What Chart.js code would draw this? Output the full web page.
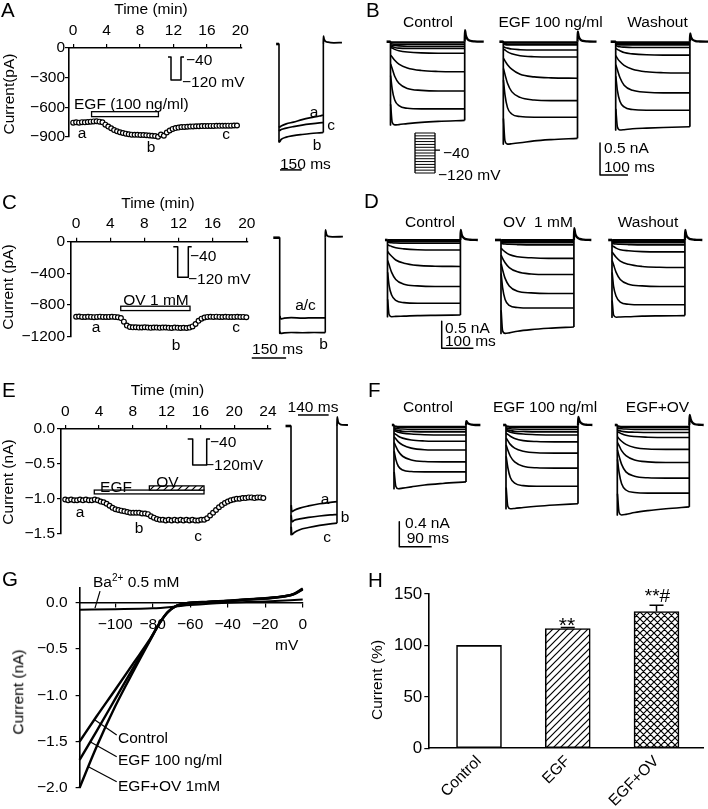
<!DOCTYPE html>
<html><head><meta charset="utf-8">
<script src="https://cdn.jsdelivr.net/npm/chart.js@4.4.1/dist/chart.umd.min.js"></script>
<style>
html,body{margin:0;padding:0;background:#fff}
body{position:relative;width:708px;height:809px;overflow:hidden;font-family:"Liberation Sans",Arial,Helvetica,sans-serif;color:#000}
canvas{position:absolute}
.t{position:absolute;white-space:nowrap;font-size:15.5px;line-height:1}
.t sup{font-size:10px;vertical-align:0;position:relative;top:-6px}
</style></head><body>
<script>
// ================= DATA =================
// --- time courses (one point per sweep) ---
const SWEEP_MIN = 0.35;
const TC_A = [-755,-752,-755,-750,-752,-748,-745,-742,-740,-745,-752,
 -775,-795,-812,-830,-842,-852,-860,-866,-872,-876,-878,-878,-880,-880,-882,-885,-888,-890,-898,-875,-888,-855,
 -835,-818,-810,-805,-800,-798,-796,-795,-793,-792,-791,-790,-790,-789,-788,-788,-787,-787,-786,-786,-785,-785,-784,-784];
const TC_C = [-948,-945,-950,-952,-948,-950,-953,-950,-947,-950,-952,-950,-948,-950,-955,
 -965,-1010,-1060,-1078,-1082,-1080,-1085,-1083,-1080,-1085,-1088,-1083,-1085,-1088,-1085,-1083,-1088,-1090,-1085,-1088,-1090,-1087,-1090,-1085,
 -1070,-1040,-1000,-972,-958,-950,-948,-950,-947,-950,-952,-948,-950,-952,-950,-948,-952,-950,-955];
const TC_E = [-1.01,-1.02,-1.01,-1.02,-1.02,-1.01,-1.02,-1.01,-1.02,-1.02,-1.01,-1.02,
 -1.04,-1.05,-1.07,-1.10,-1.13,-1.15,-1.16,-1.17,-1.18,-1.19,-1.20,-1.20,-1.20,-1.20,-1.21,-1.21,-1.22,
 -1.25,-1.27,-1.29,-1.30,-1.30,-1.31,-1.30,-1.31,-1.30,-1.31,-1.30,-1.31,-1.30,-1.31,-1.30,-1.31,-1.31,-1.30,-1.30,
 -1.28,-1.24,-1.20,-1.16,-1.12,-1.09,-1.06,-1.04,-1.02,-1.01,-1.00,-1.00,-0.99,-0.99,-0.98,-0.98,-0.99,-0.98,-0.98,-0.99];
// drug application windows (min)
const EGF_A = [2.2, 10.2];
const OV_C = [5.23, 13.35];
const EGF_E = [3.44, 16.43];
const OV_E = [9.96, 16.43];
// tick labels
const TICKS_A_X = [0,4,8,12,16,20];
const TICKS_A_Y = [0,-300,-600,-900];
const TICKS_C_X = [0,4,8,12,16,20];
const TICKS_C_Y = [0,-400,-800,-1200];
const TICKS_E_X = [0,4,8,12,16,20,24];
const TICKS_E_Y = [0,-0.5,-1.0,-1.5];
const TICKS_G_X = [-100,-80,-60,-40,-20,0];
const TICKS_G_Y = [0,-0.5,-1.0,-1.5,-2.0];
const TICKS_H_Y = [0,50,100,150];

// --- single-sweep traces (ms, pA / nA) ---
const TR_A_T = [1, 4, 15, 50, 100, 160, 220, 280, 307];
const TR_A_a = [-830,-840,-830,-808,-790,-765,-745,-728,-718];
const TR_A_c = [-865,-875,-865,-850,-835,-820,-808,-798,-795];
const TR_A_b = [-970,-990,-965,-942,-927,-915,-905,-898,-895];
const TR_A_TAIL_T = [0,1,5,13,33,73,129];
const TR_A_TAIL = [0,80,50,30,18,12,14];

const TR_C_T = [1, 5, 20, 50, 100, 150, 199];
const TR_C_ac = [-900,-935,-925,-920,-925,-921,-922];
const TR_C_b = [-1080,-1100,-1095,-1090,-1093,-1090,-1092];
const TR_C_TAIL_T = [0,1,5,13,31,77];
const TR_C_TAIL = [0,90,40,15,10,12];

const TR_E_T = [1, 4, 15, 40, 80, 130, 180, 210];
const TR_E_a = [-1.10,-1.19,-1.17,-1.14,-1.11,-1.08,-1.06,-1.05];
const TR_E_b = [-1.24,-1.33,-1.31,-1.29,-1.27,-1.25,-1.235,-1.23];
const TR_E_c = [-1.40,-1.51,-1.48,-1.44,-1.41,-1.38,-1.36,-1.35];
const TR_E_TAIL_T = [0,1,5,12,25,50];
const TR_E_TAIL = [0,0.125,0.06,0.03,0.015,0.014];

// --- current families (nA) ---
const T_B = [0.5, 6, 15, 30, 60, 110, 170, 265];
const TAIL_T_B = [0,1,4,10,20,35,68];
const B_CTRL = [
 [-0.01,-0.01,-0.01,-0.01,-0.01,-0.01,-0.01,-0.01],
 [-0.03,-0.035,-0.04,-0.04,-0.04,-0.04,-0.04,-0.04],
 [-0.05,-0.055,-0.06,-0.065,-0.07,-0.07,-0.07,-0.07],
 [-0.07,-0.08,-0.09,-0.10,-0.105,-0.105,-0.105,-0.105],
 [-0.09,-0.10,-0.12,-0.14,-0.16,-0.175,-0.18,-0.18],
 [-0.21,-0.24,-0.29,-0.35,-0.41,-0.45,-0.465,-0.47],
 [-0.35,-0.42,-0.54,-0.65,-0.73,-0.76,-0.77,-0.77],
 [-0.53,-0.74,-0.91,-1.00,-1.04,-1.05,-1.05,-1.05],
 [-0.98,-1.26,-1.30,-1.295,-1.28,-1.26,-1.245,-1.23]];
const B_EGF = [
 [-0.01,-0.01,-0.01,-0.01,-0.01,-0.01,-0.01,-0.01],
 [-0.03,-0.03,-0.035,-0.035,-0.035,-0.035,-0.035,-0.035],
 [-0.04,-0.045,-0.05,-0.05,-0.05,-0.05,-0.05,-0.05],
 [-0.08,-0.09,-0.10,-0.115,-0.125,-0.13,-0.13,-0.13],
 [-0.12,-0.13,-0.16,-0.19,-0.22,-0.235,-0.24,-0.24],
 [-0.26,-0.30,-0.36,-0.43,-0.51,-0.55,-0.565,-0.57],
 [-0.42,-0.51,-0.65,-0.78,-0.87,-0.91,-0.92,-0.92],
 [-0.60,-0.83,-1.03,-1.13,-1.17,-1.18,-1.18,-1.18],
 [-1.20,-1.55,-1.60,-1.595,-1.58,-1.55,-1.53,-1.51]];
const B_WASH = [
 [-0.01,-0.01,-0.01,-0.01,-0.01,-0.01,-0.01,-0.01],
 [-0.025,-0.03,-0.03,-0.03,-0.03,-0.03,-0.03,-0.03],
 [-0.04,-0.045,-0.05,-0.05,-0.05,-0.05,-0.05,-0.05],
 [-0.06,-0.07,-0.08,-0.085,-0.09,-0.09,-0.09,-0.09],
 [-0.10,-0.12,-0.14,-0.17,-0.19,-0.205,-0.21,-0.21],
 [-0.22,-0.26,-0.31,-0.37,-0.43,-0.47,-0.485,-0.49],
 [-0.36,-0.44,-0.56,-0.68,-0.76,-0.79,-0.80,-0.80],
 [-0.54,-0.76,-0.93,-1.02,-1.06,-1.07,-1.07,-1.07],
 [-1.05,-1.33,-1.38,-1.375,-1.36,-1.35,-1.34,-1.33]];
const B_CTRL_TAIL = [0,0.18,0.10,0.04,0.015,0.005,0];
const B_EGF_TAIL  = [0,0.16,0.09,0.035,0.012,0.004,0];
const B_WASH_TAIL = [0,0.13,0.07,0.03,0.01,0.003,0];

const T_D = [0.5, 5, 13, 26, 52, 95, 150, 230];
const TAIL_T_D = [0,1,4,10,18,30,55];
const D_CTRL = [
 [-0.005,-0.005,-0.005,-0.005,-0.005,-0.005,-0.005,-0.005],
 [-0.015,-0.02,-0.02,-0.02,-0.02,-0.02,-0.02,-0.02],
 [-0.025,-0.03,-0.03,-0.03,-0.03,-0.03,-0.03,-0.03],
 [-0.04,-0.045,-0.05,-0.055,-0.06,-0.06,-0.06,-0.06],
 [-0.09,-0.10,-0.12,-0.145,-0.165,-0.18,-0.185,-0.185],
 [-0.21,-0.25,-0.30,-0.37,-0.43,-0.47,-0.485,-0.49],
 [-0.38,-0.46,-0.60,-0.73,-0.82,-0.85,-0.86,-0.86],
 [-0.60,-0.84,-1.02,-1.12,-1.16,-1.17,-1.17,-1.17],
 [-1.10,-1.38,-1.42,-1.415,-1.41,-1.40,-1.395,-1.39]];
const D_OV = [
 [-0.005,-0.005,-0.005,-0.005,-0.005,-0.005,-0.005,-0.005],
 [-0.02,-0.02,-0.02,-0.02,-0.02,-0.02,-0.02,-0.02],
 [-0.04,-0.045,-0.05,-0.05,-0.05,-0.05,-0.05,-0.05],
 [-0.06,-0.07,-0.075,-0.08,-0.085,-0.09,-0.09,-0.09],
 [-0.15,-0.18,-0.22,-0.27,-0.31,-0.33,-0.34,-0.34],
 [-0.28,-0.34,-0.42,-0.51,-0.59,-0.63,-0.64,-0.64],
 [-0.44,-0.55,-0.71,-0.85,-0.95,-0.98,-0.99,-0.99],
 [-0.62,-0.88,-1.10,-1.21,-1.25,-1.26,-1.26,-1.26],
 [-1.30,-1.68,-1.73,-1.72,-1.69,-1.66,-1.635,-1.61]];
const D_WASH = [
 [-0.005,-0.005,-0.005,-0.005,-0.005,-0.005,-0.005,-0.005],
 [-0.02,-0.02,-0.02,-0.02,-0.02,-0.02,-0.02,-0.02],
 [-0.04,-0.045,-0.05,-0.05,-0.05,-0.05,-0.05,-0.05],
 [-0.06,-0.07,-0.075,-0.08,-0.085,-0.09,-0.09,-0.09],
 [-0.10,-0.12,-0.15,-0.18,-0.20,-0.215,-0.22,-0.22],
 [-0.22,-0.26,-0.32,-0.39,-0.45,-0.49,-0.505,-0.51],
 [-0.38,-0.46,-0.60,-0.73,-0.82,-0.85,-0.86,-0.86],
 [-0.60,-0.86,-1.04,-1.15,-1.19,-1.20,-1.20,-1.20],
 [-1.12,-1.39,-1.43,-1.425,-1.42,-1.41,-1.405,-1.40]];
const D_CTRL_TAIL = [0,0.185,0.10,0.04,0.015,0.005,0];
const D_OV_TAIL   = [0,0.22,0.12,0.05,0.02,0.006,0];
const D_WASH_TAIL = [0,0.185,0.10,0.04,0.015,0.005,0];

const T_F = [0.5, 5, 12, 24, 48, 85, 135, 200];
const TAIL_T_F = [0,1,4,9,16,26,40];
const F_CTRL = [
 [-0.02,-0.025,-0.03,-0.03,-0.03,-0.03,-0.03,-0.03],
 [-0.05,-0.055,-0.06,-0.065,-0.07,-0.07,-0.07,-0.07],
 [-0.07,-0.08,-0.09,-0.10,-0.105,-0.11,-0.11,-0.11],
 [-0.09,-0.10,-0.115,-0.13,-0.145,-0.155,-0.16,-0.16],
 [-0.13,-0.15,-0.18,-0.21,-0.24,-0.255,-0.26,-0.26],
 [-0.19,-0.22,-0.27,-0.32,-0.37,-0.395,-0.40,-0.40],
 [-0.28,-0.34,-0.42,-0.50,-0.56,-0.585,-0.59,-0.59],
 [-0.42,-0.55,-0.66,-0.72,-0.745,-0.75,-0.75,-0.75],
 [-0.75,-0.98,-1.02,-1.01,-0.99,-0.96,-0.935,-0.91]];
const F_EGF = [
 [-0.02,-0.025,-0.03,-0.03,-0.03,-0.03,-0.03,-0.03],
 [-0.05,-0.055,-0.06,-0.065,-0.07,-0.07,-0.07,-0.07],
 [-0.07,-0.08,-0.09,-0.10,-0.105,-0.11,-0.11,-0.11],
 [-0.09,-0.10,-0.115,-0.13,-0.145,-0.155,-0.16,-0.16],
 [-0.13,-0.15,-0.18,-0.215,-0.25,-0.265,-0.27,-0.27],
 [-0.21,-0.25,-0.31,-0.37,-0.42,-0.445,-0.45,-0.45],
 [-0.32,-0.40,-0.50,-0.59,-0.66,-0.685,-0.69,-0.69],
 [-0.50,-0.68,-0.84,-0.93,-0.97,-0.98,-0.98,-0.98],
 [-1.00,-1.30,-1.34,-1.335,-1.32,-1.30,-1.28,-1.26]];
const F_EGFOV = [
 [-0.02,-0.025,-0.03,-0.03,-0.03,-0.03,-0.03,-0.03],
 [-0.05,-0.055,-0.06,-0.065,-0.07,-0.07,-0.07,-0.07],
 [-0.08,-0.09,-0.10,-0.11,-0.115,-0.12,-0.12,-0.12],
 [-0.11,-0.12,-0.14,-0.165,-0.185,-0.195,-0.20,-0.20],
 [-0.19,-0.22,-0.26,-0.31,-0.36,-0.385,-0.39,-0.39],
 [-0.28,-0.33,-0.41,-0.49,-0.56,-0.59,-0.60,-0.60],
 [-0.40,-0.50,-0.63,-0.75,-0.82,-0.845,-0.85,-0.85],
 [-0.55,-0.76,-0.94,-1.04,-1.08,-1.09,-1.09,-1.09],
 [-1.10,-1.40,-1.44,-1.43,-1.40,-1.37,-1.34,-1.31]];
const F_CTRL_TAIL  = [0,0.06,0.035,0.015,0.005,0,0];
const F_EGF_TAIL   = [0,0.13,0.07,0.03,0.01,0.003,0];
const F_EGFOV_TAIL = [0,0.16,0.09,0.035,0.012,0.004,0];

// --- voltage protocols (ms, mV) ---
const HOLD_MV = -40, STEP_MV = -120;
const PROTO_LEVELS = [-120,-110,-100,-90,-80,-70,-60,-50,-40,-30,-20,-10,0,10,20];

// --- I-V curves (mV, nA) ---
const G_V = [-119,-110,-100,-90,-82,-76,-72,-68,-62,-50,-40,-30,-20,-10,-5,0];
const G_CTRL  = [-1.50,-1.23,-0.94,-0.645,-0.41,-0.21,-0.105,-0.04,-0.005,0.01,0.02,0.035,0.047,0.07,0.09,0.15];
const G_EGF   = [-1.70,-1.39,-1.04,-0.69,-0.42,-0.21,-0.10,-0.04,-0.005,0.012,0.022,0.037,0.05,0.072,0.095,0.155];
const G_EGFOV = [-2.00,-1.56,-1.12,-0.73,-0.43,-0.21,-0.10,-0.04,-0.005,0.01,0.02,0.034,0.046,0.068,0.09,0.145];
const G_BA_V = [-119,-100,-80,-70,-60,-50,-40,-20,0];
const G_BA   = [-0.075,-0.07,-0.06,-0.045,-0.025,-0.01,0.0,0.015,0.035];

// --- summary bars ---
const H_CATS = ['Control','EGF','EGF+OV'];
const H_VALS = [100, 116.5, 133];
const H_ERR  = [0, 1, 6];

// ================= HELPERS =================
Chart.defaults.font.family = "'Liberation Sans', Arial, Helvetica, sans-serif";
Chart.defaults.font.size = 15.5;
Chart.defaults.color = '#000';
const MINUS = '\u2212';
const fmt = (v, d=0) => (v < -1e-9 ? MINUS : '') + Math.abs(v).toFixed(d);
const setTicks = arr => (s => { s.ticks = arr.map(v=>({value:v})); });

function makeCanvas(L,T,W,H){
  const c=document.createElement('canvas'); c.width=W; c.height=H;
  c.style.left=L+'px'; c.style.top=T+'px'; c.style.width=W+'px'; c.style.height=H+'px';
  document.body.appendChild(c); return c;
}
const BASE = {animation:false, responsive:false, maintainAspectRatio:false, devicePixelRatio:1, events:[]};
const NOPLUG = {legend:{display:false}, tooltip:{enabled:false}};
const pts = (xs, ys) => xs.map((x,i)=>({x, y:ys[i]}));
const pairs = arr => arr.map(([x,y])=>({x,y}));
function lineDS(data, w=1.3, smooth=true){
  return {data, borderColor:'#000', borderWidth:w, pointRadius:0, fill:false, clip:false,
    tension:0, cubicInterpolationMode: smooth?'monotone':'default', borderJoinStyle:'round'};
}
function scaleBar(t0, i0, dt, di){
  const p = di ? [[t0, i0+di],[t0,i0],[t0+dt,i0]] : [[t0,i0],[t0+dt,i0]];
  return lineDS(pairs(p), 1.5, false);
}
function traceChart(rect, x0, yb, sx, sy, datasets){
  const [L,T,W,H]=rect;
  const xmin = -(x0-L)/sx, xmax = xmin + W/sx;
  const ymax = (yb-T)/sy, ymin = ymax - H/sy;
  return new Chart(makeCanvas(L,T,W,H),{type:'line', data:{datasets},
    options:{...BASE, plugins:NOPLUG, layout:{padding:0},
      scales:{x:{type:'linear',display:false,min:xmin,max:xmax}, y:{type:'linear',display:false,min:ymin,max:ymax}}}});
}
function familyChart(rect, x0, yb, sx, sy, times, traces, tailT, tail, pre, extra=[]){
  const end = times[times.length-1];
  const bottom = traces[traces.length-1];
  const minI = Math.min(...traces.flat());
  const ds = [
    lineDS(pairs([[pre,0],[0,0]]), 2.6, false),
    lineDS(pts(tailT.map(t=>end+t), tail), 2.3, true),
    lineDS(pairs([[0,0],[0,minI]]), 1.7, false),
    lineDS(pairs([[end,bottom[bottom.length-1]],[end,0]]), 1.7, false)];
  traces.forEach((tr,k)=>ds.push(lineDS(pts(times,tr), k===0?2.4:1.6, true)));
  extra.forEach(e=>ds.push(e));
  return traceChart(rect,x0,yb,sx,sy,ds);
}
function stepTrace(times, vals, end, tailT, tail, pre, minI){
  return [lineDS(pairs([[pre,0],[0,0]]), 2.6, false),
          lineDS(pairs([[0,0],[0,minI]]), 1.6, false),
          lineDS(pts(tailT.map(t=>end+t), tail), 1.8, true)]
    .concat(vals.map(v=>lineDS(pts(times,v),1.7,true)))
    .concat([lineDS(pairs([[end, Math.min(...vals.map(v=>v[v.length-1]))],[end,0]]),1.6,false)]);
}
// protocol icon: yHold = pixel row of the holding level
function protoChart(rect, x0, yHold, sx, sy, dur, preMs, postMs){
  const ds = [lineDS(pairs([[-preMs,HOLD_MV],[0,HOLD_MV],[0,STEP_MV],[dur,STEP_MV],[dur,HOLD_MV],[dur+postMs,HOLD_MV]]),1.5,false)];
  return traceChart(rect,x0,yHold + HOLD_MV*sy,sx,sy,ds);
}
function makePattern(kind){
  const s=7, c=document.createElement('canvas'); c.width=s; c.height=s;
  const g=c.getContext('2d'); g.fillStyle='#fff'; g.fillRect(0,0,s,s);
  g.strokeStyle='#000'; g.lineWidth=1.2; g.beginPath();
  g.moveTo(-1,s+1); g.lineTo(s+1,-1); g.moveTo(-1,1); g.lineTo(1,-1); g.moveTo(s-1,s+1); g.lineTo(s+1,s-1);
  if(kind==='x'){ g.moveTo(-1,-1); g.lineTo(s+1,s+1); g.moveTo(s-1,-1); g.lineTo(s+1,1); g.moveTo(-1,s-1); g.lineTo(1,s+1); }
  g.stroke();
  return g.createPattern(c,'repeat');
}
const appBars = {id:'appBars', afterDatasetsDraw(chart, args, opts){
  const {ctx, scales:{x,y}} = chart;
  (opts.bars||[]).forEach(b=>{
    const x1=x.getPixelForValue(b.from), x2=x.getPixelForValue(b.to);
    const y1=y.getPixelForValue(b.top), y2=y.getPixelForValue(b.bottom);
    ctx.save(); ctx.fillStyle = b.hatch ? makePattern(b.hatch) : '#fff';
    ctx.fillRect(x1,y1,x2-x1,y2-y1); ctx.lineWidth=1.3; ctx.strokeStyle='#000';
    ctx.strokeRect(x1,y1,x2-x1,y2-y1); ctx.restore();
  });
}};
function axisStyle(){ return {grid:{display:true,drawOnChartArea:false,drawTicks:true,tickLength:4,color:'#000',lineWidth:1.2}, border:{display:true,color:'#000',width:1.6}}; }
function timeCourse(rect, area, xr, yr, xTicks, yTicks, vals, bars, yDec, yPad, xPad){
  const [L,T,W,H]=rect;
  new Chart(makeCanvas(L,T,W,H),{type:'line',
    data:{datasets:[{data: vals.map((v,i)=>({x:i*SWEEP_MIN, y:v})), showLine:false, pointRadius:2.4,
      pointBorderWidth:1.2, pointBackgroundColor:'#fff', pointBorderColor:'#000', clip:false}]},
    options:{...BASE, plugins:{...NOPLUG, appBars:{bars}},
      layout:{padding:{left:0,top:0,right:L+W-area.r,bottom:T+H-area.b}},
      scales:{
        x:{type:'linear', position:'top', min:xr[0], max:xr[1], ...axisStyle(),
           afterFit:s=>{s.height=area.t-T;}, afterBuildTicks:setTicks(xTicks),
           ticks:{padding:xPad, maxRotation:0, autoSkip:false, callback:v=>fmt(v)}},
        y:{type:'linear', min:yr[0], max:yr[1], ...axisStyle(),
           afterFit:s=>{s.width=area.l-L;}, afterBuildTicks:setTicks(yTicks),
           ticks:{padding:yPad, autoSkip:false, callback:v=>fmt(v,yDec)}}
      }},
    plugins:[appBars]});
}

// ================= PANEL A =================
timeCourse([0,14,262,136], {l:69,t:48,r:242,b:137}, [-0.5,20.2], [-900,0], TICKS_A_X, TICKS_A_Y, TC_A,
  [{from:EGF_A[0], to:EGF_A[1], top:-644, bottom:-694}], 0, 0, 4);
protoChart([164,50,26,36], 171, 57, 10/300, 0.2875, 300, 90, 90);
traceChart([262,30,90,150], 279, 44, 0.1444, 0.0989,
  stepTrace(TR_A_T, [TR_A_a, TR_A_c, TR_A_b], 307, TR_A_TAIL_T, TR_A_TAIL, -20, -990)
  .concat([scaleBar(7, -1273, 150, 0)]));

// ================= PANEL B =================
familyChart([382,25,105,130], 390.5, 41.7, 0.28, 64, T_B, B_CTRL, TAIL_T_B, B_CTRL_TAIL, -14);
familyChart([494,25,108,130], 503.3, 41.7, 0.28, 64, T_B, B_EGF, TAIL_T_B, B_EGF_TAIL, -14);
familyChart([595,25,113,155], 615.7, 41.7, 0.28, 64, T_B, B_WASH, TAIL_T_B, B_WASH_TAIL, -18,
  [scaleBar(-56, -2.083, 100, 0.5)]);
(function(){ // multi-step protocol icon
  const ds = PROTO_LEVELS.map(l=>lineDS(pairs([[0,l],[250,l]]),1,false));
  ds.push(lineDS(pairs([[0,PROTO_LEVELS[0]],[0,PROTO_LEVELS[PROTO_LEVELS.length-1]]]),1.3,false));
  ds.push(lineDS(pairs([[250,PROTO_LEVELS[0]],[250,PROTO_LEVELS[PROTO_LEVELS.length-1]]]),1.3,false));
  ds.push(lineDS(pairs([[250,HOLD_MV],[312,HOLD_MV]]),1.3,false));
  traceChart([410,128,36,50], 415, 133+20*(40/140), 0.08, 40/140, ds);
})();

// ================= PANEL C =================
timeCourse([0,208,262,140], {l:71,t:241.7,r:247.6,b:338.3}, [-0.6,20.1], [-1200,0], TICKS_C_X, TICKS_C_Y, TC_C,
  [{from:OV_C[0], to:OV_C[1], top:-815, bottom:-870}], 0, 2, 5);
protoChart([170,240,24,42], 177.7, 246.7, 0.053, 0.3825, 200, 83, 64);
traceChart([245,222,105,143], 279.7, 237.7, 0.229, 1/11.5,
  stepTrace(TR_C_T, [TR_C_ac, TR_C_b], 199, TR_C_TAIL_T, TR_C_TAIL, -28, -1100)
  .concat([scaleBar(-122, -1383, 150, 0)]));

// ================= PANEL D =================
familyChart([380,218,100,135], 387.5, 240, 0.317, 54, T_D, D_CTRL, TAIL_T_D, D_CTRL_TAIL, -8,
  [scaleBar(171, -2.006, 100, 0.5)]);
familyChart([490,218,110,125], 501, 240, 0.317, 54, T_D, D_OV, TAIL_T_D, D_OV_TAIL, -19);
familyChart([602,218,106,110], 612, 240, 0.317, 54, T_D, D_WASH, TAIL_T_D, D_WASH_TAIL, -12);

// ================= PANEL E =================
timeCourse([0,395,285,150], {l:61,t:429,r:270.5,b:537}, [-0.5,24.3], [-1.5,0], TICKS_E_X, TICKS_E_Y, TC_E,
  [{from:EGF_E[0], to:EGF_E[1], top:-0.875, bottom:-0.93},
   {from:OV_E[0], to:OV_E[1], top:-0.815, bottom:-0.875, hatch:'/'}], 1, 2, 4);
protoChart([185,432,28,40], 192.7, 439, 14/210, 0.325, 210, 75, 50);
traceChart([280,400,72,150], 291, 426, 0.219, 72,
  stepTrace(TR_E_T, [TR_E_a, TR_E_b, TR_E_c], 210, TR_E_TAIL_T, TR_E_TAIL, -25, -1.51)
  .concat([scaleBar(32, 0.153, 140, 0)]));

// ================= PANEL F =================
familyChart([385,410,100,140], 394, 425, 0.36, 62.5, T_F, F_CTRL, TAIL_T_F, F_CTRL_TAIL, -6,
  [scaleBar(14.7, -1.947, 90, 0.4)]);
familyChart([497,405,105,110], 506, 425, 0.36, 62.5, T_F, F_EGF, TAIL_T_F, F_EGF_TAIL, -8);
familyChart([608,405,100,120], 617.3, 425, 0.36, 62.5, T_F, F_EGFOV, TAIL_T_F, F_EGFOV_TAIL, -7);

// ================= PANEL G =================
(function(){
  const L=0,T=570,W=355,H=235, area={l:79.6,t:588,r:302.7,b:787.7};
  const ds = [
    lineDS(pts(G_V,G_CTRL),2.4,true), lineDS(pts(G_V,G_EGF),2.4,true), lineDS(pts(G_V,G_EGFOV),2.4,true),
    lineDS(pts(G_BA_V,G_BA),2.0,true),
    // label leader lines
    lineDS(pairs([[-108.1,0.126],[-110.8,-0.057]]),1.2,false),
    lineDS(pairs([[-110.8,-1.268],[-99.2,-1.43]]),1.2,false),
    lineDS(pairs([[-113.4,-1.503],[-99.2,-1.665]]),1.2,false),
    lineDS(pairs([[-114.3,-1.773],[-99.2,-1.935]]),1.2,false)];
  new Chart(makeCanvas(L,T,W,H),{type:'line', data:{datasets:ds},
    options:{...BASE, plugins:NOPLUG,
      layout:{padding:{left:0,top:area.t-T,right:L+W-area.r,bottom:T+H-area.b}},
      scales:{
        x:{type:'linear', position:{y:0}, min:-119, max:0, ...axisStyle(), afterBuildTicks:setTicks(TICKS_G_X),
           ticks:{padding:9, maxRotation:0, autoSkip:false, callback:v=>fmt(v)}},
        y:{type:'linear', min:-2.0, max:0.16, ...axisStyle(),
           afterFit:s=>{s.width=area.l-L;}, afterBuildTicks:setTicks(TICKS_G_Y),
           ticks:{padding:8, autoSkip:false, callback:v=>fmt(v,1)}}
      }}});
})();

// ================= PANEL H =================
(function(){
  const L=360,T=570,W=348,H=239, area={l:428.3,t:594,r:703,b:748.3};
  const errPlugin = {id:'errBars', afterDatasetsDraw(chart){
    const {ctx, scales:{x,y}} = chart;
    ctx.save(); ctx.strokeStyle='#000'; ctx.lineWidth=1.5;
    H_VALS.forEach((v,i)=>{ if(!H_ERR[i]) return;
      const px=x.getPixelForValue(i+1), y0=y.getPixelForValue(v), y1=y.getPixelForValue(v+H_ERR[i]);
      ctx.beginPath(); ctx.moveTo(px,y0); ctx.lineTo(px,y1); ctx.moveTo(px-7,y1); ctx.lineTo(px+7,y1); ctx.stroke();
    }); ctx.restore();
  }};
  new Chart(makeCanvas(L,T,W,H),{type:'bar',
    data:{datasets:[{data:H_VALS.map((v,i)=>({x:i+1,y:v})),
      backgroundColor:['#fff', makePattern('/'), makePattern('x')],
      borderColor:'#000', borderWidth:1.6, borderSkipped:false, barThickness:45}]},
    options:{...BASE, plugins:NOPLUG,
      layout:{padding:{left:0,top:area.t-T,right:L+W-area.r,bottom:0}},
      scales:{
        x:{type:'linear', offset:false, min:0.4287, max:3.524, grid:{display:false,drawTicks:false,offset:false},
           border:{display:true,color:'#000',width:1.6},
           afterFit:s=>{s.height=T+H-area.b;},
           afterBuildTicks:setTicks(H_CATS.map((c,i)=>i+1)),
           ticks:{minRotation:45, maxRotation:45, padding:4, autoSkip:false, font:{size:15.5}, callback:v=>H_CATS[Math.round(v)-1]}},
        y:{type:'linear', min:0, max:150, ...axisStyle(),
           afterFit:s=>{s.width=area.l-L;}, afterBuildTicks:setTicks(TICKS_H_Y),
           ticks:{padding:2, autoSkip:false, font:{size:17}, callback:v=>fmt(v)}}
      }},
    plugins:[errPlugin]});
})();

// ================= TEXT =================
const LABELS = [
 ['A',1,10,'l',20.5],['Time (min)',151,9,'c'],['Current(pA)',9,94,'c',15.5,true],
 ['EGF (100 ng/ml)',74,104,'l'],['a',82,133,'c'],['b',151,147,'c'],['c',226,134,'c'],
 ['\u221240',186,60,'l'],['\u2212120 mV',182,82,'l'],
 ['a',314,112,'c'],['c',331,125,'c'],['b',317,145,'c'],['150 ms',280,164,'l'],
 ['B',366,10,'l',20.5],['Control',428,21.5,'c'],['EGF 100 ng/ml',550.5,21.5,'c'],['Washout',657.5,21.5,'c'],
 ['\u221240',443,152.5,'l'],['\u2212120 mV',438,175,'l'],['0.5 nA',604,148,'l'],['100 ms',604,167,'l'],
 ['C',2,202,'l',20.5],['Time (min)',158,203,'c'],['Current (pA)',8,287,'c',15.5,true],
 ['OV 1 mM',156,300,'c'],['a',96,327,'c'],['b',176,345,'c'],['c',236,327,'c'],
 ['\u221240',190,256,'l'],['\u2212120 mV',188,278.5,'l'],['a/c',305.5,305,'c'],['b',323.5,344,'c'],['150 ms',277.5,349,'c'],
 ['D',364,201,'l',20.5],['Control',430,221.7,'c'],['OV&nbsp; 1 mM',538,221.7,'c'],['Washout',648,221.7,'c'],
 ['0.5 nA',445,327.5,'l'],['100 ms',445,341,'l'],
 ['E',2,390,'l',20.5],['Time (min)',167.5,390,'c'],['Current (nA)',8,482,'c',15.5,true],
 ['EGF',116,487,'c'],['OV',167.5,481.7,'c'],['a',80,512,'c'],['b',139,528,'c'],['c',198,536,'c'],
 ['\u221240',210,442,'l'],['\u2212120mV',205,465,'l'],['140 ms',313,407,'c'],
 ['a',325,499,'c'],['b',345,517,'c'],['c',327,537,'c'],
 ['F',368,390,'l',20.5],['Control',428,406.7,'c'],['EGF 100 ng/ml',545,406.7,'c'],['EGF+OV',657.5,406.7,'c'],
 ['0.4 nA',405,523.3,'l'],['90 ms',406.7,538.3,'l'],
 ['G',2,579,'l',20.5],['Ba<sup>2+</sup> 0.5 mM',93,582,'l'],
 ['Control',118,738,'l'],['EGF 100 ng/ml',118,760,'l'],['EGF+OV 1mM',118,786,'l'],
 ['mV',286.7,645,'c'],['Current (nA)',18,692,'c',15.5,true],
 ['H',368,580,'l',20.5],['Current (%)',376.7,680,'c',15.5,true],['**',567,624,'c',21],['**#',657.5,595,'c',19]
];
LABELS.forEach(([t,x,y,al,size,rot])=>{
  const d=document.createElement('div'); d.className='t'; d.innerHTML=t;
  d.style.left=x+'px'; d.style.top=y+'px'; if(size) d.style.fontSize=size+'px';
  const tx = rot ? '-50%' : (al==='l'?'0':al==='c'?'-50%':'-100%');
  d.style.transform='translate('+tx+',-50%)'+(rot?' rotate(-90deg)':'');
  document.body.appendChild(d);
});
</script>
</body></html>
